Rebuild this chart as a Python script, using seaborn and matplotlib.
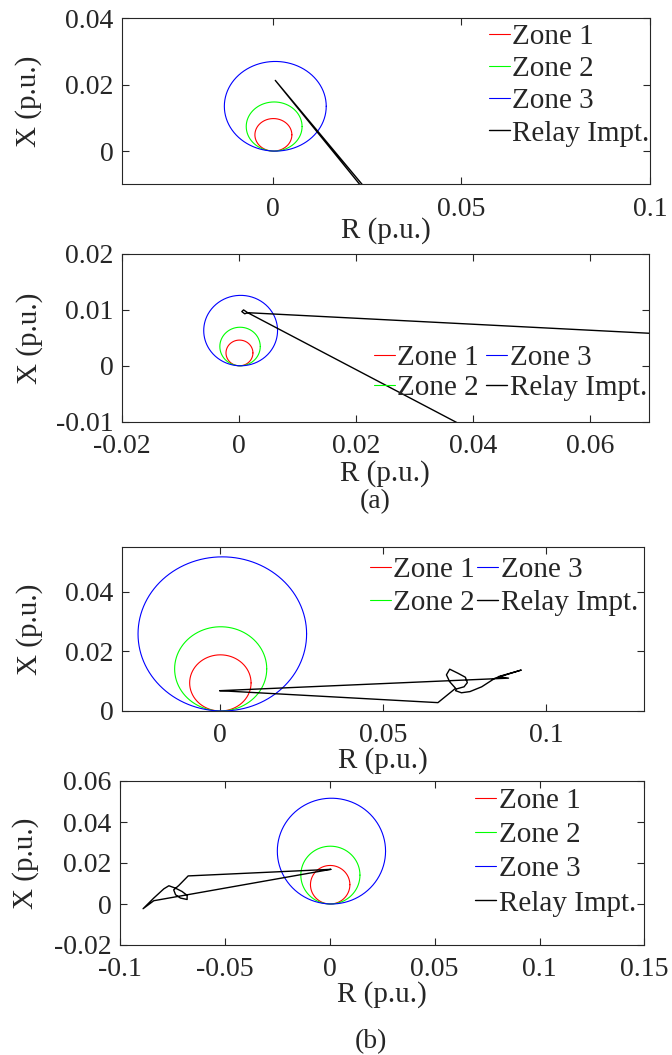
import numpy as np
import pandas as pd
import matplotlib
matplotlib.use("Agg")
import matplotlib.pyplot as plt
import seaborn as sns

sns.set_theme(style="ticks")
plt.rcParams['font.family'] = ['Liberation Serif', 'DejaVu Serif']

# ---------------- data ----------------
zone_labels = ["Zone 1", "Zone 2", "Zone 3"]
zone_colors = ["#ff0000", "#00ff00", "#0000ff"]
traj_label = "Relay Impt."

# (a) top panel
a1_zone_cx = [0.0002, 0.0004, 0.0007]
a1_zone_cy = [0.0049, 0.0074, 0.0135]
a1_zone_r = [0.0049, 0.0074, 0.0135]
a1_traj_R = [0.0259, 0.0007, 0.0252]
a1_traj_X = [-0.013, 0.0213, -0.013]
a1_xticks = [0, 0.05, 0.1]
a1_xticklabels = ["0", "0.05", "0.1"]
a1_yticks = [0, 0.02, 0.04]
a1_yticklabels = ["0", "0.02", "0.04"]

# (a) bottom panel
a2_zone_cx = [0.0001, 0.0002, 0.0003]
a2_zone_cy = [0.0023, 0.00345, 0.0063]
a2_zone_r = [0.0023, 0.00345, 0.0063]
a2_traj_R = [0.090, 0.0015, 0.0008, 0.0005, 0.0010, 0.0015, 0.046]
a2_traj_X = [0.00475, 0.0095, 0.0100, 0.0097, 0.0093, 0.0095, -0.015]
a2_xticks = [-0.02, 0, 0.02, 0.04, 0.06]
a2_xticklabels = ["-0.02", "0", "0.02", "0.04", "0.06"]
a2_yticks = [-0.01, 0, 0.01, 0.02]
a2_yticklabels = ["-0.01", "0", "0.01", "0.02"]

# (b) top panel
b1_zone_cx = [0.0002, 0.0003, 0.0008]
b1_zone_cy = [0.0094, 0.0141, 0.0258]
b1_zone_r = [0.0094, 0.0141, 0.0258]
b1_traj_R = [0.0, 0.0668, 0.0722, 0.0704, 0.0694, 0.0704, 0.0730, 0.0752,
             0.0758, 0.0748, 0.0725, 0.0722, 0.0740, 0.0766, 0.0802, 0.0843,
             0.0923, 0.0853, 0.0884, 0.0]
b1_traj_X = [0.0068, 0.0028, 0.0076, 0.0098, 0.0121, 0.0140, 0.0126, 0.0113,
             0.0095, 0.0081, 0.0074, 0.0068, 0.0061, 0.0065, 0.0081, 0.0110,
             0.0137, 0.0115, 0.0110, 0.0068]
b1_xticks = [0, 0.05, 0.1]
b1_xticklabels = ["0", "0.05", "0.1"]
b1_yticks = [0, 0.02, 0.04]
b1_yticklabels = ["0", "0.02", "0.04"]

# (b) bottom panel
b2_zone_cx = [0.0002, 0.0003, 0.0008]
b2_zone_cy = [0.0094, 0.0141, 0.0258]
b2_zone_r = [0.0094, 0.0141, 0.0258]
b2_traj_R = [0.0005, -0.0675, -0.0720, -0.0744, -0.0735, -0.0712, -0.0680,
             -0.0680, -0.0704, -0.0735, -0.0767, -0.0791, -0.0839, -0.0890,
             -0.0839, 0.0005]
b2_traj_X = [0.0169, 0.0137, 0.0090, 0.0069, 0.0045, 0.0029, 0.0022,
             0.0042, 0.0061, 0.0077, 0.0089, 0.0074, 0.0029, -0.0023,
             0.0016, 0.0169]
b2_xticks = [-0.1, -0.05, 0, 0.05, 0.1, 0.15]
b2_xticklabels = ["-0.1", "-0.05", "0", "0.05", "0.1", "0.15"]
b2_yticks = [-0.02, 0, 0.02, 0.04, 0.06]
b2_yticklabels = ["-0.02", "0", "0.02", "0.04", "0.06"]

# ---------------- figure ----------------
W, H = 672, 1055
fig = plt.figure(figsize=(W / 100, H / 100), dpi=100)
fig.patch.set_facecolor("white")

TXT = "#262626"
FS_TICK = 20
FS_LAB = 21
FS_LEG = 21


def panel(rect, cx, cy, r, tR, tX, xlim, ylim, xt, xtl, yt, ytl,
          ncol, leg_xy, colspace, lspace, ylab_x, xlab_y):
    ax = fig.add_axes(rect)
    theta = np.linspace(0, 2 * np.pi, 361)
    for i in range(3):
        df = pd.DataFrame({"R": cx[i] + r[i] * np.cos(theta),
                           "X": cy[i] + r[i] * np.sin(theta)})
        sns.lineplot(data=df, x="R", y="X", sort=False, estimator=None,
                     color=zone_colors[i], lw=0.8, label=zone_labels[i], ax=ax)
    sns.lineplot(x=tR, y=tX, sort=False, estimator=None, color="black",
                 lw=1.0, label=traj_label, ax=ax)
    ax.set_xlim(*xlim)
    ax.set_ylim(*ylim)
    ax.set_xticks(xt)
    ax.set_xticklabels(xtl)
    ax.set_yticks(yt)
    ax.set_yticklabels(ytl)
    ax.tick_params(direction="in", top=True, right=True, length=5, width=0.8,
                   labelsize=FS_TICK, colors=TXT)
    ax.tick_params(axis="x", pad=9)
    ax.tick_params(axis="y", pad=6)
    for s in ax.spines.values():
        s.set_linewidth(0.8)
        s.set_color(TXT)
    ax.set_xlabel("R (p.u.)", fontsize=FS_LAB, color=TXT)
    ax.set_ylabel("X (p.u.)", fontsize=FS_LAB, color=TXT)
    ax.xaxis.set_label_coords(0.5, xlab_y)
    ax.yaxis.set_label_coords(ylab_x, 0.5)
    h, l = ax.get_legend_handles_labels()
    ax.legend(h, l, loc="center", bbox_to_anchor=leg_xy, ncol=ncol,
              frameon=False, fontsize=FS_LEG, handlelength=0.72,
              handletextpad=0.08, labelspacing=lspace, columnspacing=colspace,
              borderpad=0.1, borderaxespad=0.0)
    return ax


def rect(l, r, t, b):
    return [l / W, 1 - b / H, (r - l) / W, (b - t) / H]


panel(rect(121.7, 650, 18.3, 184.3), a1_zone_cx, a1_zone_cy, a1_zone_r,
      a1_traj_R, a1_traj_X, (-0.04, 0.1), (-0.01, 0.04),
      a1_xticks, a1_xticklabels, a1_yticks, a1_yticklabels,
      1, (0.847, 0.598), 0.3, 0.2, -0.15, -0.20)

panel(rect(121.7, 649, 254, 421.7), a2_zone_cx, a2_zone_cy, a2_zone_r,
      a2_traj_R, a2_traj_X, (-0.02, 0.07), (-0.01, 0.02),
      a2_xticks, a2_xticklabels, a2_yticks, a2_yticklabels,
      2, (0.737, 0.29), 0.25, 0.13, -0.15, -0.228)

panel(rect(121.7, 644.4, 546.7, 711), b1_zone_cx, b1_zone_cy, b1_zone_r,
      b1_traj_R, b1_traj_X, (-0.03, 0.13), (0, 0.055),
      b1_xticks, b1_xticklabels, b1_yticks, b1_yticklabels,
      2, (0.731, 0.757), 0.08, 0.22, -0.15, -0.219)

panel(rect(120, 644.4, 781, 945), b2_zone_cx, b2_zone_cy, b2_zone_r,
      b2_traj_R, b2_traj_X, (-0.1, 0.15), (-0.02, 0.06),
      b2_xticks, b2_xticklabels, b2_yticks, b2_yticklabels,
      1, (0.831, 0.567), 0.3, 0.27, -0.155, -0.22)

fig.text(375 / W, 1 - 502 / H, "(a)", ha="center", va="center",
         fontsize=20, color=TXT)
fig.text(371 / W, 1 - 1042 / H, "(b)", ha="center", va="center",
         fontsize=20, color=TXT)

fig.savefig("out.png", dpi=100, facecolor="white")
